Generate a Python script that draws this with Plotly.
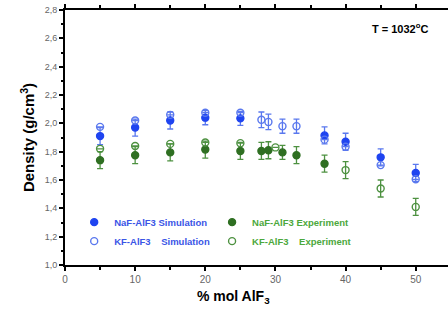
import plotly.graph_objects as go

# ---- data ----
naf_sim_x = [5, 10, 15, 20, 25, 37, 40, 45, 50]
naf_sim_y = [1.91, 1.97, 2.02, 2.04, 2.035, 1.915, 1.87, 1.76, 1.65]
naf_sim_err = [0.06, 0.06, 0.06, 0.05, 0.05, 0.06, 0.06, 0.06, 0.06]

kf_sim_x = [5, 10, 15, 20, 25, 28, 29, 31, 33, 37, 40, 45, 50]
kf_sim_y = [1.975, 2.02, 2.06, 2.075, 2.075, 2.025, 2.01, 1.98, 1.98, 1.885, 1.835, 1.705, 1.605]
kf_sim_err = [0, 0, 0, 0, 0, 0.055, 0.055, 0.05, 0.05, 0, 0, 0, 0]

naf_exp_x = [5, 10, 15, 20, 25, 28, 29, 31, 33, 37]
naf_exp_y = [1.74, 1.775, 1.795, 1.815, 1.805, 1.805, 1.81, 1.795, 1.775, 1.715]
naf_exp_err = [0.06, 0.06, 0.06, 0.06, 0.06, 0.06, 0.06, 0.05, 0.06, 0.06]

kf_exp_x = [5, 10, 15, 20, 25, 30, 40, 45, 50]
kf_exp_y = [1.82, 1.84, 1.855, 1.865, 1.86, 1.83, 1.67, 1.54, 1.41]
kf_exp_err = [0, 0, 0, 0, 0, 0, 0.06, 0.06, 0.06]

y_ticks = [1.0, 1.2, 1.4, 1.6, 1.8, 2.0, 2.2, 2.4, 2.6, 2.8]
y_labels = ["1,0", "1,2", "1,4", "1,6", "1,8", "2,0", "2,2", "2,4", "2,6", "2,8"]
x_ticks = [0, 10, 20, 30, 40, 50]

BLUE = "#1f44f0"
BLUE_OPEN = "#5a78ee"
GREEN = "#2f6f22"
GREEN_OPEN = "#4d9140"

fig = go.Figure()

def add(x, y, err, name, color, symbol, ecolor, size):
    fig.add_trace(go.Scatter(
        x=x, y=y, mode="markers", name=name,
        marker=dict(symbol=symbol, size=size, color=color,
                    line=dict(color=color, width=1.4)),
        error_y=dict(type="data", array=err, visible=True, color=ecolor,
                     thickness=1.3, width=3),
    ))

# order chosen so the horizontal legend forms a 2x2 grid
add(naf_sim_x, naf_sim_y, naf_sim_err,
    "<span style='color:#3a55e6'>NaF-AlF3 Simulation</span>", BLUE, "circle", BLUE_OPEN, 7)
add(naf_exp_x, naf_exp_y, naf_exp_err,
    "<span style='color:#4ca83c'>NaF-AlF3 Experiment</span>", GREEN, "circle", GREEN_OPEN, 7)
add(kf_sim_x, kf_sim_y, kf_sim_err,
    "<span style='color:#3a55e6'>KF-AlF3    Simulation</span>", BLUE_OPEN, "circle-open", BLUE_OPEN, 7)
add(kf_exp_x, kf_exp_y, kf_exp_err,
    "<span style='color:#4ca83c'>KF-AlF3    Experiment</span>", GREEN_OPEN, "circle-open", GREEN_OPEN, 7)

fig.update_layout(
    width=448, height=309,
    margin=dict(l=65, r=0, t=10, b=44, autoexpand=False),
    paper_bgcolor="white", plot_bgcolor="white",
    font=dict(family="Liberation Sans, Arial, sans-serif"),
    showlegend=True,
    legend=dict(
        orientation="h", x=0.024, y=0.225, xanchor="left", yanchor="top",
        entrywidth=0.36, entrywidthmode="fraction",
        font=dict(size=9.5, family="Liberation Sans, Arial, sans-serif", weight="bold"),
        bgcolor="rgba(0,0,0,0)", itemwidth=30, tracegroupgap=0,
    ),
    xaxis=dict(
        range=[0, 54.6], tickvals=x_ticks, ticks="outside", ticklen=4,
        tickwidth=1.5, tickcolor="black", automargin=False,
        showline=True, linewidth=2, linecolor="black", mirror="ticks",
        showgrid=False, zeroline=False,
        tickfont=dict(size=10, color="#666"),
        minor=dict(dtick=5, ticks="outside", ticklen=3, tickcolor="black"),
    ),
    yaxis=dict(
        range=[1.0, 2.8], tickvals=y_ticks, ticktext=y_labels,
        ticks="outside", ticklen=4, tickwidth=1.5, tickcolor="black",
        showline=True, linewidth=2, linecolor="black", mirror="ticks",
        showgrid=False, zeroline=False, automargin=False,
        tickfont=dict(size=9, color="#666"),
        minor=dict(dtick=0.1, ticks="outside", ticklen=2, tickcolor="black"),
        title=dict(text="<b>Density (g/cm<sup>3</sup>)</b>",
                   font=dict(size=15, color="black"), standoff=6),
    ),
)

fig.add_annotation(
    text="<b>% mol AlF<sub>3</sub></b>", xref="paper", yref="paper",
    x=0.44, y=-0.125, xanchor="center", yanchor="middle", showarrow=False,
    font=dict(size=14, color="black"),
)
fig.add_annotation(
    text="<b>T = 1032<sup>o</sup>C</b>", xref="paper", yref="paper",
    x=0.953, y=0.93, xanchor="right", yanchor="middle", showarrow=False,
    font=dict(size=11, color="black"),
)

fig.write_html("out.html", config={"displayModeBar": False},
               post_script="document.body.style.margin='0px';")
